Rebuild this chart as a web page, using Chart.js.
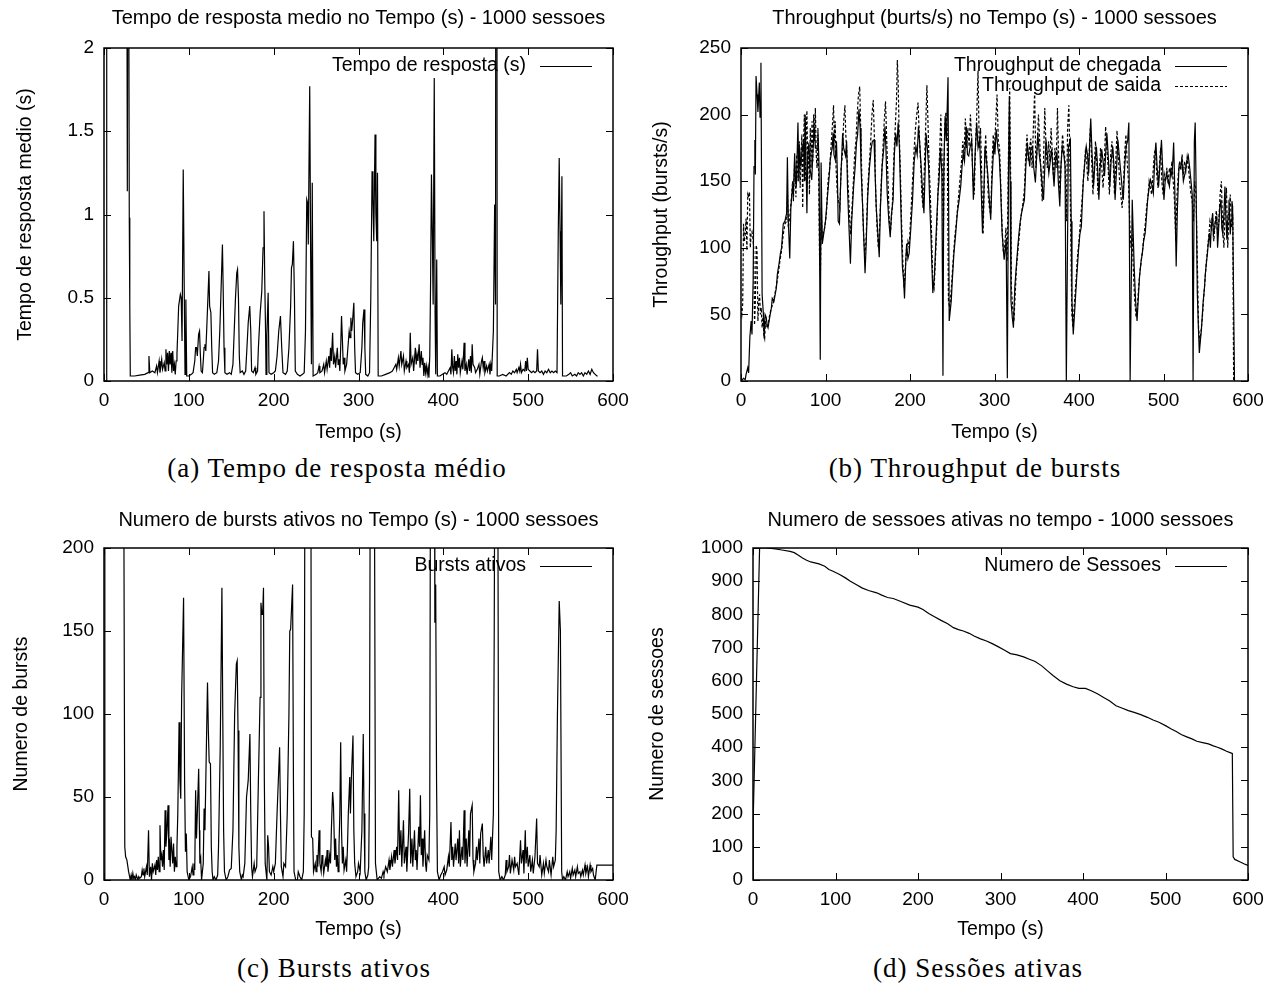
<!DOCTYPE html>
<html>
<head>
<meta charset="utf-8">
<script src="https://cdn.jsdelivr.net/npm/chart.js@4.4.0/dist/chart.umd.min.js"></script>
<style>
body { margin:0; background:#fff; width:1273px; height:985px; position:relative; overflow:hidden; }
canvas { position:absolute; }
.cap { position:absolute; font-family:"Liberation Serif", serif; font-size:27px; letter-spacing:1px; line-height:30px; white-space:nowrap; transform:translateX(-50%); color:#000; }
</style>
</head>
<body>
<canvas id="respChart" width="640" height="450" style="left:0;top:0;width:640px;height:450px"></canvas>
<canvas id="thrChart" width="637" height="450" style="left:636px;top:0;width:637px;height:450px"></canvas>
<canvas id="burstChart" width="640" height="450" style="left:0;top:500px;width:640px;height:450px"></canvas>
<canvas id="sessChart" width="637" height="450" style="left:636px;top:500px;width:637px;height:450px"></canvas>
<div class="cap" style="left:337px;top:453px">(a) Tempo de resposta médio</div>
<div class="cap" style="left:975px;top:453px">(b) Throughput de bursts</div>
<div class="cap" style="left:334px;top:953px">(c) Bursts ativos</div>
<div class="cap" style="left:978px;top:953px">(d) Sessões ativas</div>
<script>
// [tempo (s), valor]
var respostaMedia = [[0,0],[2.5,0],[3.2,8],[10,9],[20,8],[26,5],[27.5,1.14],[28.5,4],[29.8,0.98],[30.4,0.45],[31,0.03],
 [36,0.03],[42,0.035],[48,0.04],[52,0.05],[53,0.15],[54,0.05],[57,0.06],[60,0.05],[62,0.09],[63,0.05],[65,0.12],[66,0.05],
 [68,0.13],[69,0.07],[71,0.11],[72,0.06],[73,0.19],[74,0.1],[75,0.17],[76,0.06],[77,0.18],[78,0.1],[79,0.17],[80,0.05],
 [81,0.18],[82,0.06],[83,0.1],[84,0.04],[85,0.12],[86,0.16],[87,0.3],[88,0.45],[90,0.52],[91,0.5],[92,0.24],[93.4,1.27],
 [94.5,0.6],[95.5,0.04],[96.5,0.49],[97.5,0.03],[100,0.03],[103,0.04],[105,0.05],[107,0.12],[108,0.2],[109,0.2],[110,0.15],
 [111.5,0.28],[112.6,0.3],[113.5,0.17],[114.5,0.06],[116,0.05],[117,0.12],[118,0.2],[119,0.22],[120,0.18],[121,0.3],
 [122.5,0.5],[123.7,0.66],[124.5,0.45],[126,0.41],[127,0.2],[128,0.05],[130,0.04],[133,0.05],[135,0.12],[136.5,0.3],
 [138,0.55],[139.6,0.82],[140.5,0.55],[141.5,0.2],[142.5,0.05],[145,0.04],[148,0.05],[150,0.04],[152,0.1],[153.5,0.3],
 [155,0.5],[156.5,0.65],[157.4,0.67],[158.5,0.5],[159.5,0.15],[160.5,0.05],[163,0.06],[165,0.04],[167,0.06],[168.5,0.2],
 [170,0.35],[171.8,0.45],[173,0.3],[174,0.06],[176,0.05],[178,0.08],[179,0.04],[181,0.06],[182,0.2],[184,0.4],[186,0.54],
 [187.5,0.8],[188.6,1.02],[189.5,0.6],[190.5,0.28],[191,0.04],[192,0.28],[193.5,0.53],[194.5,0.05],[197,0.04],[200,0.05],
 [202,0.06],[204,0.15],[206,0.3],[208,0.39],[209.5,0.2],[211,0.05],[214,0.04],[216,0.06],[218,0.2],[220,0.45],[221,0.68],
 [222,0.7],[223.3,0.84],[224.5,0.5],[225.5,0.06],[228,0.04],[231,0.03],[234,0.04],[236,0.05],[237.5,0.3],[239,1.09],
 [240,1.07],[240.8,0.82],[242.5,1.77],[243.5,0.82],[244.5,0.1],[245.5,1.19],[246.5,0.03],[250,0.04],[252,0.05],[253.5,0.09],
 [254.5,0.05],[257,0.06],[259,0.1],[260,0.05],[262,0.12],[263,0.07],[265,0.15],[266,0.08],[267,0.2],[268,0.12],[269.5,0.29],
 [270.5,0.1],[272,0.15],[273,0.08],[275,0.2],[276,0.1],[277,0.13],[278,0.06],[279,0.2],[280,0.39],[281,0.25],[282,0.1],
 [283,0.14],[284,0.06],[286,0.1],[287.5,0.2],[289,0.3],[290,0.26],[291,0.38],[292,0.3],[293,0.36],[294.5,0.47],[295.5,0.2],
 [296.5,0.05],[299,0.04],[302,0.05],[304,0.2],[305,0.35],[306.5,0.43],[307.5,0.2],[308.5,0.04],[311,0.03],[313,0.05],
 [314.5,0.5],[316,1.26],[317,1.1],[318,0.84],[319.5,1.48],[320.5,1.0],[321.5,0.84],[322.4,1.25],[323.2,0.03],[327,0.03],
 [332,0.04],[337,0.05],[340,0.06],[342,0.08],[344,0.1],[345,0.07],[347,0.14],[348,0.09],[350,0.18],[351,0.1],[353,0.15],
 [354,0.06],[356,0.12],[357,0.08],[359,0.1],[360,0.05],[361,0.29],[362,0.1],[364,0.14],[365,0.06],[367,0.2],[368,0.1],
 [369,0.16],[370,0.12],[371.5,0.22],[372.5,0.08],[374,0.18],[375,0.1],[376,0.14],[377,0.03],[378,0.11],[379,0.05],[380,0.09],
 [381,0.04],[382,0.08],[383,0.02],[384,0.15],[385,0.6],[386,1.24],[387,0.9],[388,0.46],[389.3,1.82],[390.3,0.4],[391,0.04],
 [392.2,0.73],[393,0.03],[396,0.03],[399,0.04],[402,0.05],[404,0.04],[406,0.06],[408,0.08],[409,0.04],[410,0.19],[411,0.08],
 [412,0.05],[413,0.15],[414,0.06],[415,0.12],[416,0.04],[417,0.16],[418,0.08],[419,0.14],[420,0.05],[422,0.12],[423,0.07],
 [424.5,0.23],[425.5,0.06],[427,0.1],[428,0.04],[430,0.13],[431,0.06],[432,0.15],[433,0.05],[434,0.22],[435,0.1],[437,0.08],
 [438,0.05],[440,0.07],[442,0.1],[443,0.04],[445,0.12],[446,0.14],[447,0.08],[448,0.12],[449,0.05],[451,0.09],[452,0.06],
 [454,0.1],[455,0.04],[456,0.1],[457,0.06],[458,0.18],[459,0.3],[460.5,1.06],[461.5,0.46],[462.5,8],[463.5,0.03],[466,0.03],
 [470,0.04],[474,0.03],[478,0.05],[480,0.04],[482,0.06],[484,0.05],[486,0.07],[487,0.05],[489,0.08],[490,0.06],[491,0.1],
 [492,0.05],[494,0.07],[496,0.06],[497,0.12],[498,0.06],[499,0.14],[500,0.07],[502,0.06],[504,0.05],[506,0.06],[508,0.05],
 [510,0.06],[511,0.19],[512,0.06],[514,0.05],[516,0.06],[518,0.04],[520,0.06],[522,0.05],[524,0.07],[526,0.05],[528,0.06],
 [530,0.05],[532,0.06],[534,0.05],[535.5,0.9],[536.6,1.34],[537.6,0.9],[538.5,0.46],[539.8,1.23],[540.5,0.03],[545,0.03],
 [548,0.04],[550,0.05],[552,0.03],[555,0.04],[557,0.03],[559,0.05],[561,0.04],[563,0.05],[565,0.03],[567,0.05],[569,0.04],
 [571,0.06],[573,0.04],[575,0.07],[577,0.05],[579,0.04],[581,0.03],[582,0.03]];

var thrChegada = [[0,0],[3,2],[5,1],[6,5],[8,10],[9,6],[10.5,33],[12,45],[13,35],[14.4,76],[15.4,161],[16.4,181],[17,155],
 [17.8,229],[19,215],[20,202],[21.7,224],[22.5,198],[23.6,239],[25,65],[26.5,50],[27.4,32],[28.5,50],[29.8,48],[31,42],
 [32,40],[34,48],[36,55],[37,62],[39,60],[41.9,70],[43,80],[45,88],[46.7,96],[48,100],[50,118],[52,120],[54,126],[54.9,168],
 [56,120],[57.7,92],[59,130],[61,146],[62,140],[63.5,171],[64.5,150],[65.5,146],[67.4,194],[68.5,150],[69.5,175],[70.7,161],
 [72,170],[74,181],[75,150],[76,200],[78,126],[79,170],[80.4,179],[81.5,160],[83.7,151],[85,170],[86.6,191],[88,175],
 [90,174],[91,190],[92.4,161],[93.8,16],[94.8,164],[96.2,103],[98,111],[100,120],[102,136],[104.4,154],[105.5,165],
 [106.8,171],[108,175],[109,186],[110,170],[111.6,166],[113,180],[114,156],[115,120],[116.5,118],[118,150],[120.3,186],
 [121.5,175],[123.7,169],[125,180],[126,146],[127.5,120],[129.5,88],[131,120],[133.3,146],[135,160],[136.7,179],[138,185],
 [139.6,204],[141,190],[142,161],[144,130],[146.8,81],[148,100],[150,139],[152,160],[154,174],[155.5,180],[157.4,181],
 [158.5,160],[160,131],[162,110],[163.6,93],[165,130],[167,161],[169,175],[170.4,191],[171.5,175],[173,141],[175,120],
 [176.6,108],[178,125],[180,136],[181.5,170],[183,186],[184.5,176],[186,194],[187.5,175],[188.6,146],[190,110],[191,86],
 [192.5,75],[193.5,62],[195,90],[196,103],[197.5,92],[199,96],[201,115],[203,136],[205,165],[207,176],[208.5,170],[210,191],
 [211.5,178],[213.7,156],[215,140],[216.5,126],[218,160],[219,186],[220.5,175],[222,161],[223.5,130],[224.7,111],[226,85],
 [227,66],[229,80],[231,111],[233,140],[234.4,151],[236,175],[237.7,156],[239,4],[240,160],[241.6,199],[243,180],[245,228],
 [246.4,45],[248.8,60],[250,75],[252,96],[254,110],[256,126],[258,135],[260,146],[261.5,160],[263,171],[264.5,165],
 [266.6,191],[268,170],[269.5,169],[271,175],[273,181],[274,160],[275,136],[277,170],[279,194],[280.5,175],[282.5,181],
 [284,150],[285.8,111],[287,130],[288.7,176],[290.5,165],[292,156],[293.5,140],[295.5,121],[297,150],[299.3,179],
 [300.5,170],[302,189],[304,175],[305.6,169],[307,150],[309,111],[311.4,91],[313.8,106],[315.2,2],[316.5,150],[317.6,214],
 [318.5,150],[319.5,60],[321,48],[322.4,40],[324,70],[325.8,86],[327.5,100],[329,111],[330.5,120],[332,126],[334,132],
 [335.4,136],[337,160],[338.8,179],[340,170],[341.7,161],[343,175],[345,176],[346.5,160],[348.4,149],[350,170],[351.3,186],
 [353,170],[354.7,161],[356,150],[358,136],[359.5,160],[361,181],[362.5,170],[364.3,156],[366,165],[367.7,174],[369,160],
 [370.5,146],[372,165],[374,171],[375.5,150],[377.3,131],[378.5,160],[380.2,176],[382,170],[383.5,161],[385,0],[387.4,176],
 [389.8,181],[390.8,120],[391.7,60],[393.2,35],[395.6,60],[397.5,80],[399.4,98],[401,110],[402.8,116],[404,135],[405.2,151],
 [407,165],[408.6,176],[410,170],[411.5,156],[412.7,180],[413.9,197],[415.5,170],[417.2,146],[419,165],[420.6,176],[422,160],
 [423.5,136],[425,160],[426.9,174],[428.5,165],[430.2,154],[431.5,170],[433,186],[434.5,170],[436.5,146],[438,165],[440,176],
 [441.5,160],[442.7,136],[444.5,160],[446,181],[447.5,170],[449.5,156],[451,145],[452.4,136],[454,160],[455.7,176],
 [457.5,180],[459,194],[460.5,0],[463,136],[465.3,86],[467,60],[468.7,45],[470,60],[471.6,78],[473.5,90],[475,96],
 [476.5,105],[478.3,111],[480,125],[481.2,136],[483,145],[484.6,151],[486,148],[488,141],[489.5,165],[491,179],[492.5,160],
 [494.2,146],[496,165],[497.6,181],[499,160],[500.5,136],[502,150],[503.8,156],[505.5,150],[507,146],[508.5,158],[510,154],
 [511,165],[512,179],[513.5,140],[515,86],[516.5,130],[518.3,161],[520,160],[521.7,166],[523.5,150],[525.5,156],[527.5,165],
 [529.3,169],[531,160],[532.7,149],[534,140],[535,0],[536.5,180],[537.5,194],[538.5,150],[540,66],[541.3,40],[542.4,21],
 [543.6,30],[544.8,38],[546,50],[547,60],[548.5,70],[549.6,81],[551,90],[552,96],[553.2,105],[554.4,111],[555.5,100],
 [556.5,115],[558.2,126],[559,110],[560,113],[561.5,120],[563,123],[564,100],[565,111],[566.5,130],[568,136],[569,115],
 [570,111],[571.5,125],[572.7,146],[574,120],[575,106],[576.5,125],[577.5,136],[579,110],[580,121],[581,135],[581.8,131],[584,0]];

var thrSaida = [[0,55],[1,50],[2,58],[3,118],[4,105],[5,110],[6,122],[7,98],[8,140],[9,138],[10,142],[11,100],[12,110],
 [13,112],[14,108],[15,100],[16,42],[17,60],[18,102],[19,98],[20,45],[21,60],[22,65],[23,50],[24,55],[25,40],[26,48],
 [27,35],[28,32],[29,45],[30,40],[32,42],[34,50],[36,55],[38,58],[40,65],[42,72],[44,80],[46,90],[48,98],[50,110],[52,118],
 [54,120],[55,140],[56,115],[58,125],[60,140],[61,150],[62,135],[63.5,165],[65,138],[66,170],[67.5,150],[69,180],[70,145],
 [71,165],[72,185],[73,130],[74,180],[75,200],[76,150],[77,185],[78,203],[79,160],[80,175],[81,140],[82,190],[83,160],
 [84,195],[85,165],[86,200],[87,180],[88,205],[89,170],[90,160],[91,185],[92,150],[93,90],[94,80],[95,130],[96,106],
 [97,110],[99,115],[101,125],[103,150],[105,160],[106.5,175],[108,190],[109.5,207],[110.5,180],[111.5,195],[112.5,160],
 [114,140],[115.5,135],[117,130],[118.5,160],[120,170],[121.5,195],[123,207],[124,185],[125,175],[126.5,150],[128,130],
 [129.5,110],[131,125],[133,150],[134.5,170],[136,180],[137.5,200],[139,215],[140.5,221],[142,180],[143.5,140],[145,110],
 [146.5,95],[148,105],[150,145],[152,165],[153.5,180],[155,200],[156.5,211],[158,180],[159.5,140],[161,115],[162.5,100],
 [164,115],[166,150],[168,175],[169.5,195],[171,210],[172.5,180],[174,150],[175.5,120],[177,113],[179,130],[181,170],
 [182.5,190],[184,210],[185,241],[186,225],[187,190],[188.5,160],[190,120],[191.5,90],[193,70],[194.5,85],[196,100],
 [197.5,105],[199,100],[201,125],[203,150],[205,175],[206.5,190],[208,200],[209.5,209],[211,185],[212.5,165],[214,140],
 [215.5,130],[217,160],[218.5,190],[220,222],[221,200],[222.5,165],[224,140],[225.5,110],[227,75],[228.5,70],[230,90],
 [232,120],[233.5,150],[235,170],[236.5,200],[238,165],[239.5,110],[241,190],[242.5,202],[244,190],[245.5,60],[247,55],
 [249,70],[251,90],[253,108],[255,120],[257,135],[259,150],[261,165],[262.5,180],[264,170],[265.5,197],[267,175],
 [268.5,190],[270,176],[271.5,200],[273,180],[274.5,150],[276,140],[277.5,175],[279,200],[280.5,233],[282,175],[283.5,190],
 [285,150],[286.5,110],[288,150],[289.5,185],[291,165],[292.5,140],[294,130],[295.5,125],[297,160],[298.5,185],[300,175],
 [301.5,195],[303,215],[304.5,180],[306,175],[307.5,145],[309,115],[310.5,96],[312,100],[313.5,115],[315,90],[316.5,170],
 [318,220],[319,160],[320,70],[321.5,55],[323,45],[324.5,65],[326,85],[328,100],[329.5,110],[331,122],[332.5,128],[334,135],
 [335.5,145],[337,170],[338.5,185],[340,165],[341.5,175],[343,182],[344.5,160],[346,190],[347.5,217],[349,160],[350.5,175],
 [352,200],[353.5,180],[355,155],[356.5,135],[358,165],[359.5,205],[361,175],[362.5,160],[364,180],[365.5,165],[367,190],
 [368.5,170],[370,150],[371.5,175],[373,160],[374.5,205],[376,165],[377.5,140],[379,165],[380.5,185],[382,175],[383.5,165],
 [385,120],[386.5,190],[388,207],[389,175],[390.5,100],[391.5,50],[393,40],[394.5,58],[396.5,75],[398,92],[400,105],
 [401.5,118],[403,130],[404.5,145],[406,158],[407.5,172],[409,165],[410.5,150],[412,170],[413.5,190],[415,165],[416.5,140],
 [418,160],[419.5,180],[421,165],[422.5,140],[424,155],[425.5,175],[427,160],[428.5,145],[430,165],[431.5,191],[433,175],
 [434.5,160],[436,140],[437.5,170],[439,180],[440.5,165],[442,140],[443.5,165],[445,188],[446.5,170],[448,150],[449.5,140],
 [451,130],[452.5,145],[454,170],[455.5,185],[457,165],[458.5,150],[460,120],[461.5,100],[463,110],[464.5,80],[466,60],
 [467.5,48],[469,55],[470.5,70],[472,82],[474,92],[475.5,100],[477,110],[478.5,118],[480,130],[481.5,138],[483,150],
 [484.5,145],[486,140],[487.5,155],[489,170],[490.5,175],[492,155],[493.5,145],[495,160],[496.5,175],[498,150],[499.5,140],
 [501,155],[502.5,150],[504,160],[505.5,148],[507,160],[508.5,155],[510,165],[511.5,150],[513,135],[514.5,105],[516,140],
 [517.5,155],[519,165],[520.5,158],[522,170],[523.5,155],[525,165],[526.5,158],[528,168],[529.5,160],[531,150],[532.5,140],
 [534,135],[535.5,120],[537,150],[538.5,140],[540,90],[541.5,40],[543,30],[544.5,38],[546,48],[547.5,62],[549,75],
 [550.5,88],[552,98],[553.5,108],[555,120],[556.5,115],[558,125],[559.5,105],[561,118],[562.5,128],[564,110],[565.5,120],
 [567,140],[568.5,150],[570,115],[571.5,100],[573,130],[574.5,145],[576,100],[577.5,125],[579,140],[580.5,115],[582,125],[583,0]];

var burstsAtivos = [[0,0],[1,400],[10,600],[20,500],[23,300],[24.5,20],[25.5,14],[27,12],[29,5],[31,0],[32,3],[33,0],
 [34,4],[35,1],[36,2],[37,0],[38,3],[40,0],[41,2],[42,1],[44,2],[45,6],[46,3],[47,7],[48,2],[50,8],[51,3],[52.5,30],
 [53.5,2],[55,8],[56,0],[57,10],[58,5],[60,9],[61,3],[62,12],[63,6],[64,14],[65,5],[66,33],[67,12],[68,15],[69,8],[70,18],
 [71,6],[72,42],[73,20],[74,28],[75.5,45],[76.5,12],[77,25],[78,8],[79,26],[80,26],[81,10],[82,22],[83,5],[84,14],[85,8],
 [86,20],[87,40],[88.5,95],[89.5,60],[90.5,49],[91.5,110],[93.8,170],[95,60],[96,17],[97,28],[98,5],[100,0],[102,2],
 [104,8],[105,3],[106,10],[107,6],[108,54],[109,25],[110,40],[111.6,67],[112.5,30],[113,10],[114,13],[115,0],[116,5],
 [117,10],[118,43],[119,30],[120,60],[122,119],[123,90],[124,71],[125.5,70],[126.5,20],[127.5,5],[128.5,0],[130,2],[132,0],
 [134,3],[135,20],[137,80],[139,176],[140,100],[141,30],[142,5],[144,0],[146,2],[148,6],[150,7],[152,30],[154,100],[156,130],
 [157,132],[158,90],[159,20],[160,5],[162,0],[163,3],[164,2],[166,10],[168,50],[170,60],[172,88],[173,40],[174,8],[175,2],
 [177,10],[178,5],[180,8],[182,60],[184,110],[185,167],[186,160],[187,160],[188,176],[189,60],[190,10],[192,0],[193,27],
 [194,20],[195,5],[197,3],[199,8],[200,5],[202,10],[204,40],[207,80],[208,40],[209,8],[211,2],[212,10],[214,8],[216,40],
 [218,100],[219,150],[220,151],[222.3,178],[223.3,60],[224,5],[226,0],[228,0],[229,5],[231,2],[233,0],[235,5],[236,40],
 [237,300],[241,500],[243.5,400],[244.5,26],[246,25],[247,5],[249,10],[250,5],[251,15],[252,8],[253.6,30],[254.5,10],
 [256,5],[257,15],[258,10],[259,4],[261,12],[262,8],[263,18],[264,5],[266,15],[267,10],[268,30],[269.5,53],[270.5,45],
 [272,12],[273,25],[274,8],[275,15],[276,5],[277,20],[278,40],[279,83],[280,30],[281,10],[282,20],[283,6],[285,12],[286,5],
 [287,20],[288,40],[289.7,62],[290.5,40],[291.5,60],[293.5,87],[294.5,30],[295.5,10],[297,2],[299,5],[300,10],[302,5],
 [304,30],[305.6,88],[306.5,40],[307.5,5],[309,0],[311,3],[312,8],[313,60],[314.5,400],[318,600],[319,200],[320,10],[322,0],
 [325,2],[327,1],[329,5],[330,3],[332,8],[334,5],[336,12],[337,6],[339,14],[340,8],[342,18],[343,10],[345,20],[346,12],
 [347.4,54],[348.5,15],[350,30],[351,8],[353,36],[354,10],[356,20],[357,5],[359,28],[360.4,55],[361.5,10],[363,25],[364,8],
 [366,30],[367,12],[368,18],[369,6],[371,32],[372,20],[373,51],[374,15],[375,25],[376,8],[378,30],[379,10],[380,5],[381,15],
 [383,12],[384,40],[385,300],[388,500],[389,400],[390,155],[391,178],[392,60],[393,5],[395,0],[397,3],[399,5],[401,8],
 [402,3],[404,6],[406,14],[407,8],[409,35],[410,12],[411,20],[412,8],[414,22],[415,12],[417,25],[418,10],[419,30],[420,8],
 [422,20],[423,12],[424.5,42],[425.5,10],[427,25],[428,8],[430,30],[431,14],[432,40],[434,45],[435,12],[436,5],[438,10],
 [439,20],[440,12],[442,25],[443,10],[444,28],[446,34],[447,15],[448,8],[450,20],[451,10],[453,18],[454,10],[456,26],
 [457,12],[459,40],[460,150],[461.5,400],[464,300],[465.3,5],[467,0],[469,2],[471,0],[473,3],[474,12],[475,5],[477,8],
 [478,15],[479,4],[481,12],[483,6],[484,14],[485,8],[487,10],[489,3],[491,24],[492,10],[494,18],[495,4],[496.6,30],
 [497.5,10],[499,20],[500,8],[502,15],[503,5],[505,12],[506,4],[508,14],[510,37],[511,10],[513,8],[514,15],[516,3],[518,10],
 [519,4],[521,12],[522,8],[524,5],[525,12],[527,3],[529,14],[530,8],[532,12],[533,30],[534.5,100],[536.6,168],[538,150],
 [539.5,5],[540.5,0],[542,2],[544,0],[546,5],[547,2],[549,5],[550,1],[552,7],[553,3],[555,6],[556,2],[558,8],[559,4],
 [561,5],[562,2],[564,6],[565,3],[567,9],[568,4],[570,8],[571,2],[573,9],[574,5],[576,7],[577,3],[579,0],[581,9],[600,9]];

var sessoesAtivas = [[0,0],[0.4,200],[8,1000],[15,1000],[25,998],[35,994],[45,990],[50,986],[55,978],[60,970],[65,963],
 [70,958],[80,952],[87,945],[92,935],[97,930],[105,920],[112,910],[118,900],[125,890],[132,880],[140,872],[150,865],
 [156,858],[163,851],[170,848],[180,838],[190,828],[200,822],[206,815],[213,803],[220,793],[228,782],[236,772],[243,760],
 [249,754],[255,750],[262,743],[268,735],[275,727],[283,720],[290,712],[297,703],[305,692],[312,682],[320,678],[328,672],
 [335,665],[342,658],[350,645],[357,630],[364,615],[372,600],[380,590],[388,582],[395,577],[403,577],[410,570],[418,560],
 [425,550],[432,540],[440,525],[447,518],[455,510],[462,505],[470,498],[478,490],[485,482],[492,475],[500,465],[507,455],
 [513,447],[519,438],[525,432],[532,425],[538,418],[545,414],[552,410],[558,404],[563,400],[568,395],[574,388],[579,383],
 [581,381],[582,70],[584,62],[590,55],[595,49],[600,44]];

Chart.defaults.font.family = '"Liberation Sans", Arial, sans-serif';
Chart.defaults.font.size = 19;
Chart.defaults.color = '#000';

function toXY(arr) {
  return arr.map(function(p) { return {x: p[0], y: p[1]}; });
}

// gnuplot look: box border, inward ticks on all sides, key at top right
var gnuFrame = {
  id: 'gnuFrame',
  afterDatasetsDraw: function(chart) {
    var ctx = chart.ctx, a = chart.chartArea;
    var xs = chart.scales.x, ys = chart.scales.y;
    ctx.save();
    ctx.strokeStyle = '#000';
    ctx.lineWidth = 1;
    ctx.beginPath();
    xs.ticks.forEach(function(t) {
      var px = Math.round(xs.getPixelForValue(t.value)) + 0.5;
      ctx.moveTo(px, a.bottom); ctx.lineTo(px, a.bottom - 7);
      ctx.moveTo(px, a.top); ctx.lineTo(px, a.top + 7);
    });
    ys.ticks.forEach(function(t) {
      var py = Math.round(ys.getPixelForValue(t.value)) + 0.5;
      ctx.moveTo(a.left, py); ctx.lineTo(a.left + 7, py);
      ctx.moveTo(a.right, py); ctx.lineTo(a.right - 7, py);
    });
    ctx.stroke();
    ctx.lineWidth = 1.5;
    ctx.strokeRect(a.left, a.top, a.right - a.left, a.bottom - a.top);

    ctx.font = '19.5px "Liberation Sans", Arial, sans-serif';
    ctx.fillStyle = '#000';
    ctx.textAlign = 'right';
    ctx.textBaseline = 'middle';
    chart.data.datasets.forEach(function(ds, i) {
      var y = a.top + 18 + i * 20;
      ctx.fillText(ds.label, a.right - 87, y);
      ctx.lineWidth = 1;
      ctx.setLineDash(ds.borderDash || []);
      ctx.beginPath();
      ctx.moveTo(a.right - 73, y + 0.5);
      ctx.lineTo(a.right - 21, y + 0.5);
      ctx.stroke();
    });
    ctx.restore();
  }
};

function makeChart(id, cfg) {
  var ctx = document.getElementById(id);
  return new Chart(ctx, {
    type: 'line',
    data: { datasets: cfg.datasets },
    plugins: [gnuFrame],
    options: {
      responsive: false,
      animation: false,
      events: [],
      layout: { padding: { left: 0, right: cfg.padRight, top: 0, bottom: 0 } },
      elements: { point: { radius: 0 }, line: { tension: 0, borderWidth: 1.2 } },
      plugins: {
        legend: { display: false },
        tooltip: { enabled: false },
        title: {
          display: true, text: cfg.title, fullSize: false,
          font: { size: 20, weight: 'normal' },
          padding: { top: cfg.titleTop, bottom: 48 - cfg.titleTop - 24 }
        }
      },
      scales: {
        x: {
          type: 'linear', min: 0, max: 600,
          grid: { display: false, drawTicks: false },
          border: { display: false },
          ticks: { stepSize: 100, padding: 8, callback: function(v) { return String(v); } },
          title: { display: true, text: 'Tempo (s)', font: { size: 19.5 }, padding: { top: 0, bottom: cfg.xTitleBottom } },
          afterFit: function(s) { s.height = cfg.xHeight; }
        },
        y: {
          type: 'linear', min: 0, max: cfg.yMax,
          grid: { display: false, drawTicks: false },
          border: { display: false },
          ticks: { stepSize: cfg.yStep, padding: 10, callback: function(v) { return String(v); } },
          title: { display: true, text: cfg.yTitle, font: { size: 19.5 }, padding: { top: cfg.yTitleTop, bottom: 0 } },
          afterFit: function(s) { s.width = cfg.yWidth; }
        }
      }
    }
  });
}

makeChart('respChart', {
  title: 'Tempo de resposta medio no Tempo (s) - 1000 sessoes',
  yTitle: 'Tempo de resposta medio (s)', yMax: 2, yStep: 0.5,
  yWidth: 104, padRight: 27, xHeight: 69, titleTop: 6, xTitleBottom: 5.3, yTitleTop: 14.3,
  datasets: [{ label: 'Tempo de resposta (s)', data: toXY(respostaMedia), borderColor: '#000' }]
});

makeChart('thrChart', {
  title: 'Throughput (burts/s) no Tempo (s) - 1000 sessoes',
  yTitle: 'Throughput (bursts/s)', yMax: 250, yStep: 50,
  yWidth: 105, padRight: 25, xHeight: 69, titleTop: 6, xTitleBottom: 5.3, yTitleTop: 14.3,
  datasets: [
    { label: 'Throughput de chegada', data: toXY(thrChegada), borderColor: '#000', order: 1 },
    { label: 'Throughput de saida', data: toXY(thrSaida), borderColor: '#000', borderDash: [3, 2], order: 0 }
  ]
});

makeChart('burstChart', {
  title: 'Numero de bursts ativos no Tempo (s) - 1000 sessoes',
  yTitle: 'Numero de bursts', yMax: 200, yStep: 50,
  yWidth: 104, padRight: 27, xHeight: 70, titleTop: 8, xTitleBottom: 8.3, yTitleTop: 10.3,
  datasets: [{ label: 'Bursts ativos', data: toXY(burstsAtivos), borderColor: '#000' }]
});

makeChart('sessChart', {
  title: 'Numero de sessoes ativas no tempo - 1000 sessoes',
  yTitle: 'Numero de sessoes', yMax: 1000, yStep: 100,
  yWidth: 117, padRight: 25, xHeight: 70, titleTop: 8, xTitleBottom: 8.3, yTitleTop: 10.3,
  datasets: [{ label: 'Numero de Sessoes', data: toXY(sessoesAtivas), borderColor: '#000' }]
});
</script>
</body>
</html>
